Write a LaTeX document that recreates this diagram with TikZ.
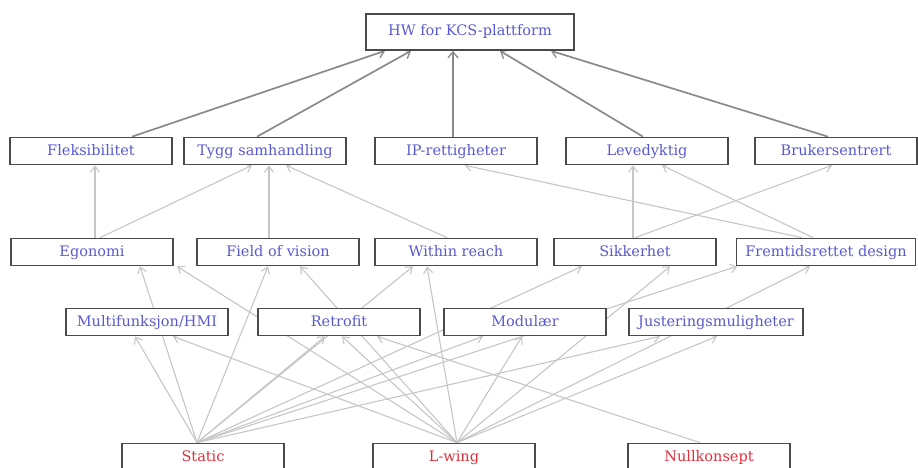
\documentclass[tikz,border=0pt]{standalone}
\usepackage{fontspec}
\setmainfont{DejaVu Serif}
\usetikzlibrary{arrows.meta}
\pgfdeclarelayer{background}
\pgfsetlayers{background,main}

\definecolor{boxline}{HTML}{4A4A4A}
\definecolor{crit}{HTML}{5A5AD0}
\definecolor{concept}{HTML}{E0303C}
\definecolor{mainedge}{HTML}{8A8A8A}
\definecolor{subedge}{HTML}{C6C6C6}

\tikzset{
  x=1pt, y=-1pt,
  box/.style={draw=boxline, line width=1.7pt, fill=white, minimum width=162pt,
    minimum height=27pt, inner sep=0pt, text height=11pt, text depth=3pt,
    font=\fontsize{14.5}{16}\selectfont, text=crit},
  conceptbox/.style={box, text=concept},
  mainlink/.style={draw=mainedge, line width=1.7pt,
    -{Straight Barb[length=6pt,width=10pt,line width=1.3pt]}},
  sublink/.style={draw=subedge, line width=1.1pt,
    -{Straight Barb[length=6pt,width=9pt,line width=1.1pt]}},
}

\begin{document}
\begin{tikzpicture}
\useasboundingbox (0,0) rectangle (918,468);

% top goal
\node[box, minimum width=208pt, minimum height=36pt] (hw) at (470,32) {HW for KCS-plattform};

% first level criteria
\node[box] (flek) at (91,151)  {Fleksibilitet};
\node[box] (tygg) at (265,151) {Tygg samhandling};
\node[box] (ip)   at (456,151) {IP-rettigheter};
\node[box] (leve) at (647,151) {Levedyktig};
\node[box] (bruk) at (836,151) {Brukersentrert};

% second level criteria
\node[box] (ego)   at (92,252)  {Egonomi};
\node[box] (fov)   at (278,252) {Field of vision};
\node[box] (reach) at (456,252) {Within reach};
\node[box] (sikk)  at (635,252) {Sikkerhet};
\node[box, minimum width=179pt] (frem) at (826,252) {Fremtidsrettet design};

% third level criteria
\node[box] (multi) at (147,322) {Multifunksjon/HMI};
\node[box] (retro) at (339,322) {Retrofit};
\node[box] (modu)  at (525,322) {Modulær};
\node[box, minimum width=174pt] (just) at (716,322) {Justeringsmuligheter};

% concepts
\node[conceptbox] (static) at (203,457) {Static};
\node[conceptbox] (lwing)  at (454,457) {L-wing};
\node[conceptbox] (null)   at (709,457) {Nullkonsept};

\begin{pgfonlayer}{background}
% links into the goal
\draw[mainlink] ([xshift=41pt]flek.north) -- ([xshift=-85pt]hw.south);
\draw[mainlink] ([xshift=-8pt]tygg.north) -- ([xshift=-59pt]hw.south);
\draw[mainlink] ([xshift=-3pt]ip.north)   -- ([xshift=-17pt]hw.south);
\draw[mainlink] ([xshift=-4pt]leve.north) -- ([xshift=30pt]hw.south);
\draw[mainlink] ([xshift=-8pt]bruk.north) -- ([xshift=81pt]hw.south);

% second level to first level
\draw[sublink] ([xshift=3pt]ego.north)    -- ([xshift=4pt]flek.south);
\draw[sublink] ([xshift=8pt]ego.north)    -- ([xshift=-13pt]tygg.south);
\draw[sublink] ([xshift=-9pt]fov.north)   -- ([xshift=4pt]tygg.south);
\draw[sublink] ([xshift=-9pt]reach.north) -- ([xshift=21pt]tygg.south);
\draw[sublink] ([xshift=-2pt]sikk.north)  -- ([xshift=-14pt]leve.south);
\draw[sublink] (sikk.north)               -- ([xshift=-4pt]bruk.south);
\draw[sublink] ([xshift=-13pt]frem.north) -- ([xshift=15pt]leve.south);
\draw[sublink] ([xshift=-24pt]frem.north) -- ([xshift=9pt]ip.south);

% Static
\coordinate (s0) at ([xshift=-6pt]static.north);
\draw[sublink] (s0) -- ([xshift=-12pt]multi.south);
\draw[sublink] (s0) -- ([xshift=48pt]ego.south);
\draw[sublink] (s0) -- ([xshift=-10pt]fov.south);
\draw[sublink] (s0) -- ([xshift=-14pt]retro.south);
\draw[sublink] (s0) -- ([xshift=-43pt]reach.south);
\draw[sublink] (s0) -- ([xshift=-42pt]modu.south);
\draw[sublink] (s0) -- ([xshift=-53pt]sikk.south);
\draw[sublink] (s0) -- ([xshift=-89pt]frem.south);
\draw[sublink] (s0) -- ([xshift=-56pt]just.south);

% L-wing
\coordinate (l0) at ([xshift=3pt]lwing.north);
\draw[sublink] (l0) -- ([xshift=85pt]ego.south);
\draw[sublink] (l0) -- ([xshift=26pt]multi.south);
\draw[sublink] (l0) -- ([xshift=22pt]fov.south);
\draw[sublink] (l0) -- ([xshift=3pt]retro.south);
\draw[sublink] (l0) -- ([xshift=-29pt]reach.south);
\draw[sublink] (l0) -- ([xshift=-3pt]modu.south);
\draw[sublink] (l0) -- ([xshift=35pt]sikk.south);
\draw[sublink] (l0) -- ([xshift=1pt]just.south);
\draw[sublink] (l0) -- ([xshift=-16pt]frem.south);

% Nullkonsept
\draw[sublink] ([xshift=-9pt]null.north) -- ([xshift=38pt]retro.south);
\end{pgfonlayer}
\end{tikzpicture}
\end{document}
